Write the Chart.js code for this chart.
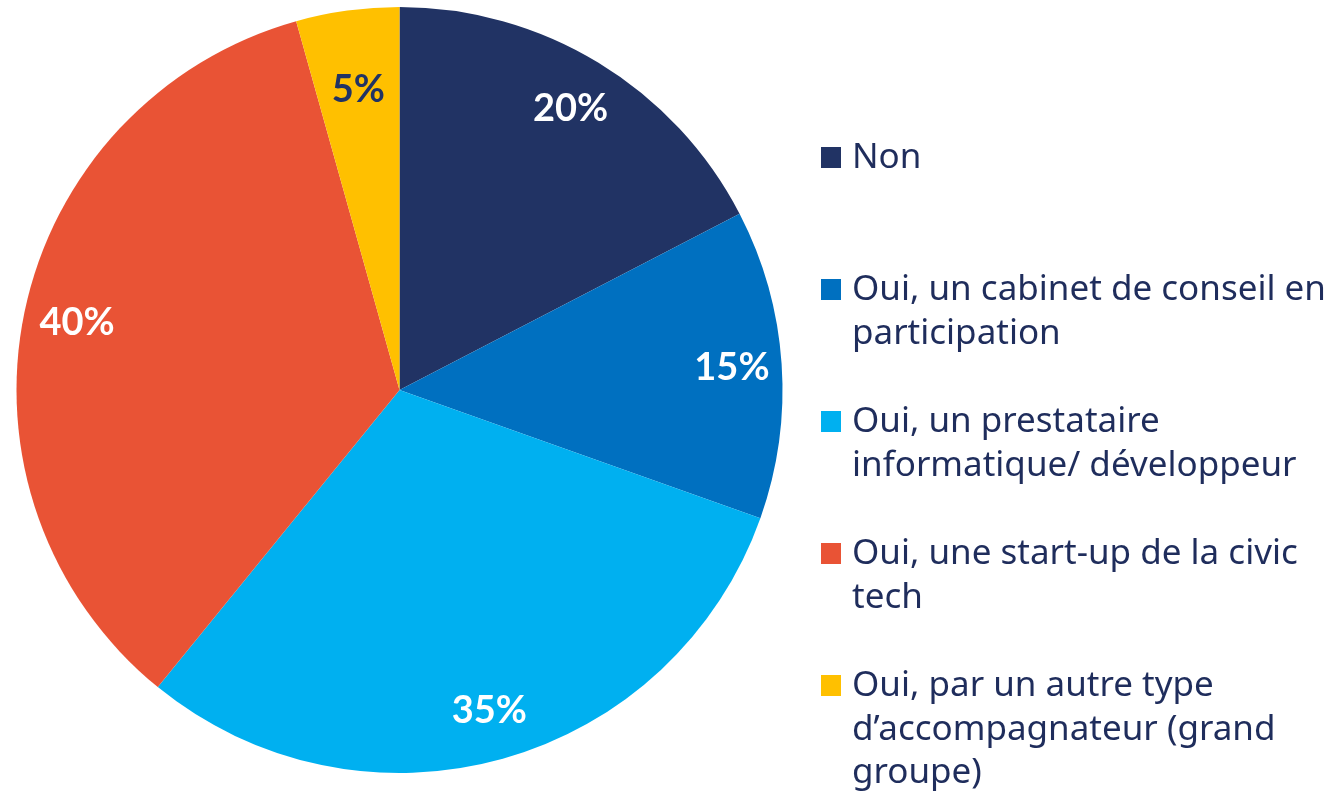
<!DOCTYPE html>
<html>
<head>
<meta charset="utf-8">
<script src="https://cdn.jsdelivr.net/npm/chart.js@4.4.0/dist/chart.umd.min.js"></script>
<style>
  html, body { margin: 0; padding: 0; background: #fff; }
  #wrap { width: 1341px; height: 794px; position: relative; }
</style>
</head>
<body>
<div id="wrap"><canvas id="pie-chart"></canvas></div>
<script>
const categories = [
    ['Non'],
    ['Oui, un cabinet de conseil en', 'participation'],
    ['Oui, un prestataire', 'informatique/ développeur'],
    ['Oui, une start-up de la civic', 'tech'],
    ['Oui, par un autre type', 'd\u2019accompagnateur (grand', 'groupe)'],
];
const values = [20, 15, 35, 40, 5];
const valueLabels = ['20%', '15%', '35%', '40%', '5%'];

const colors = ['#213364', '#0070C0', '#00B0F0', '#E95335', '#FFC000'];
const labelColors = ['#fff', '#fff', '#fff', '#fff', '#213364'];
const labelRadius = [0.86, 0.87, 0.87, 0.86, 0.79];

const pieCtx = document.getElementById('pie-chart');

// labels inside the slices
const sliceLabels = {
    id: 'sliceLabels',
    afterDatasetsDraw(chart) {
        const ctx = chart.ctx;
        const meta = chart.getDatasetMeta(0);
        ctx.save();
        ctx.font = 'bold 38px Lato';
        ctx.textAlign = 'center';
        ctx.textBaseline = 'middle';
        meta.data.forEach((arc, i) => {
            const mid = (arc.startAngle + arc.endAngle) / 2;
            const r = arc.outerRadius * labelRadius[i];
            ctx.fillStyle = labelColors[i];
            ctx.fillText(valueLabels[i], arc.x + Math.cos(mid) * r, arc.y + Math.sin(mid) * r);
        });
        ctx.restore();
    }
};

// legend on the right, with wrapped lines
const sideLegend = {
    id: 'sideLegend',
    afterDraw(chart) {
        const ctx = chart.ctx;
        ctx.save();
        ctx.font = '35px "Noto Sans"';
        ctx.textBaseline = 'middle';
        categories.forEach((lines, i) => {
            const y = 157.5 + i * 132;
            ctx.fillStyle = colors[i];
            ctx.fillRect(821, y - 10.5, 20, 21);
            ctx.fillStyle = '#1F2D5C';
            lines.forEach((line, j) => {
                ctx.fillText(line, 852, y + 1 + j * 43.5);
            });
        });
        ctx.restore();
    }
};

new Chart(pieCtx, {
    type: 'pie',
    data: {
        labels: categories.map(l => l.join(' ')),
        datasets: [{
            data: values,
            backgroundColor: colors,
            borderWidth: 0,
        }]
    },
    options: {
        events: [],
        animation: false,
        responsive: true,
        maintainAspectRatio: false,
        layout: {
            padding: { left: 16, right: 558, top: 7, bottom: 21 }
        },
        plugins: {
            legend: { display: false },
            tooltip: { enabled: false }
        }
    },
    plugins: [sliceLabels, sideLegend]
});
</script>
</body>
</html>
